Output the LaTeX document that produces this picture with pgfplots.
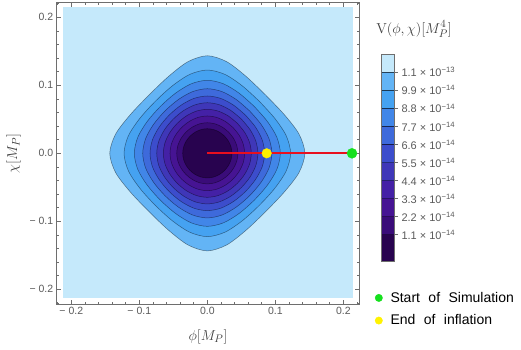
\documentclass[border=0pt]{standalone}
\usepackage[no-math]{fontspec}
\setmainfont{Liberation Sans}
\usepackage{pgfplots}
\pgfplotsset{compat=1.18}

\definecolor{framegray}{HTML}{6E6E6E}
\definecolor{labelgray}{HTML}{5A5A5A}
\definecolor{b0}{HTML}{28034F}
\definecolor{b1}{HTML}{3A0C79}
\definecolor{b2}{HTML}{461493}
\definecolor{b3}{HTML}{4421A6}
\definecolor{b4}{HTML}{3F37B8}
\definecolor{b5}{HTML}{3C4DCC}
\definecolor{b6}{HTML}{3E6ADB}
\definecolor{b7}{HTML}{4186E8}
\definecolor{b8}{HTML}{45A2F1}
\definecolor{b9}{HTML}{63B4F5}
\definecolor{b10}{HTML}{C5E9FB}
\definecolor{trackred}{HTML}{E8101E}
\definecolor{dotgreen}{HTML}{16E01E}
\definecolor{dotyellow}{HTML}{FFF200}

% one closed contour, symmetric in both axes and in phi<->chi
% args: radius on the axis, then x at 15,30,45,60,75 deg, fill colour
\newcommand{\contourring}[7]{%
  \addplot[forget plot, smooth, fill=#7, draw=black, draw opacity=0.45, line width=0.5pt]
  coordinates {
    (#4,#4) (#5,#3) (#6,#2) (0,#1) (-#6,#2) (-#5,#3) (-#4,#4) (-#3,#5) (-#2,#6) (-#1,0)
    (-#2,-#6) (-#3,-#5) (-#4,-#4) (-#5,-#3) (-#6,-#2) (0,-#1) (#6,-#2) (#5,-#3) (#4,-#4)
    (#3,-#5) (#2,-#6) (#1,0) (#2,#6) (#3,#5) (#4,#4)} -- cycle;}
\newcommand{\wsp}{\hspace{0.6em}}

\begin{document}
\begin{tikzpicture}
\useasboundingbox (-56.7pt,-46pt) rectangle (464.3pt,304pt);
\begin{axis}[
  width=302.6pt, height=301.3pt, scale only axis,
  xmin=-0.2215, xmax=0.2235, ymin=-0.2216, ymax=0.2215,
  axis on top,
  xtick={-0.2,-0.1,0,0.1,0.2},
  xticklabels={−\ 0.2,−\ 0.1,0.0,0.1,0.2},
  ytick={-0.2,-0.1,0,0.1,0.2},
  yticklabels={−\ 0.2,−\ 0.1,0.0,0.1,0.2},
  minor xtick={-0.22,-0.18,-0.16,-0.14,-0.12,-0.08,-0.06,-0.04,-0.02,0.02,0.04,0.06,0.08,0.12,0.14,0.16,0.18,0.22},
  minor ytick={-0.22,-0.18,-0.16,-0.14,-0.12,-0.08,-0.06,-0.04,-0.02,0.02,0.04,0.06,0.08,0.12,0.14,0.16,0.18,0.22},
  tick align=inside,
  major tick length=4.5pt, minor tick length=2.5pt,
  axis line style={draw=framegray, line width=0.9pt},
  every tick/.style={framegray, line width=0.6pt},
  tick label style={font=\fontsize{10.5}{12}\selectfont, text=labelgray},
  xlabel={$\phi[M_P]$}, ylabel={$\chi[M_P]$},
  label style={font=\fontsize{15}{18}\selectfont, text=black!75},
  xlabel style={at={(axis description cs:0.5,-0.1086)}, anchor=center},
  ylabel style={at={(axis description cs:-0.143,0.5)}, anchor=center},
  legend style={at={(axis description cs:1.0516,0.0435)}, anchor=north west,
    draw=none, fill=none, inner sep=0pt, row sep=9pt,
    font=\fontsize{14}{16}\selectfont,
    nodes={inner sep=1pt},
    /tikz/every odd column/.style={column sep=7pt}},
  legend cell align=left,
  legend image code/.code={\draw[#1, mark size=3.7pt] plot coordinates {(0pt,0pt)};},
]
\addplot[forget plot, fill=b10, draw=none]
  coordinates {(-0.2118,-0.2124) (0.2138,-0.2124) (0.2138,0.2147) (-0.2118,0.2147)} -- cycle;

\contourring{0.1435}{0.13482}{0.11312}{0.08574}{0.05698}{0.02835}{b9}
\contourring{0.1225}{0.11606}{0.09916}{0.07648}{0.05147}{0.02579}{b8}
\contourring{0.1074}{0.10226}{0.08836}{0.06897}{0.04684}{0.02360}{b7}
\contourring{0.0950}{0.09075}{0.07906}{0.06227}{0.04261}{0.02157}{b6}
\contourring{0.0843}{0.08074}{0.07077}{0.05615}{0.03866}{0.01964}{b5}
\contourring{0.0744}{0.07140}{0.06290}{0.05021}{0.03475}{0.01772}{b4}
\contourring{0.0647}{0.06218}{0.05502}{0.04415}{0.03071}{0.01571}{b3}
\contourring{0.0549}{0.05284}{0.04693}{0.03784}{0.02643}{0.01357}{b2}
\contourring{0.0450}{0.04337}{0.03863}{0.03128}{0.02194}{0.01129}{b1}
\contourring{0.0362}{0.03492}{0.03118}{0.02532}{0.01781}{0.00918}{b0}

\addplot[forget plot, trackred, line width=2pt] coordinates {(0,0) (0.213,0)};

\addplot[only marks, mark=*, mark size=5pt, dotgreen] coordinates {(0.2128,0)};
\addlegendentry{Start\wsp of\wsp Simulation}
\addplot[only marks, mark=*, mark size=4.8pt, dotyellow] coordinates {(0.0873,0)};
\addlegendentry{End\wsp of\wsp inflation}
\end{axis}

\begin{axis}[
  at={(324.3pt,42.3pt)}, anchor=south west,
  width=13pt, height=207.4pt, scale only axis,
  xmin=0, xmax=1, ymin=-0.55, ymax=12.1,
  axis on top,
  xtick=\empty,
  ytick={1.1,2.2,3.3,4.4,5.5,6.6,7.7,8.8,9.9,11},
  yticklabels={1.1 × 10\textsuperscript{−14},2.2 × 10\textsuperscript{−14},3.3 × 10\textsuperscript{−14},
    4.4 × 10\textsuperscript{−14},5.5 × 10\textsuperscript{−14},6.6 × 10\textsuperscript{−14},
    7.7 × 10\textsuperscript{−14},8.8 × 10\textsuperscript{−14},9.9 × 10\textsuperscript{−14},
    1.1 × 10\textsuperscript{−13}},
  ytick pos=right, yticklabel pos=right,
  tick align=outside, major tick length=4pt,
  axis line style={draw=framegray, line width=0.6pt},
  every tick/.style={framegray, line width=0.5pt},
  tick label style={font=\fontsize{11}{13}\selectfont, text=labelgray},
  title={$\mathrm{V}(\phi,\chi)[M_P^4]$},
  title style={at={(axis description cs:2.54,1.093)}, anchor=center,
    font=\fontsize{15}{18}\selectfont, text=black!75},
]
\addplot[fill=b0, draw=black, draw opacity=0.4, line width=0.4pt] coordinates {(0,-0.55) (1,-0.55) (1,1.1) (0,1.1)} -- cycle;
\addplot[fill=b1, draw=black, draw opacity=0.4, line width=0.4pt] coordinates {(0,1.1) (1,1.1) (1,2.2) (0,2.2)} -- cycle;
\addplot[fill=b2, draw=black, draw opacity=0.4, line width=0.4pt] coordinates {(0,2.2) (1,2.2) (1,3.3) (0,3.3)} -- cycle;
\addplot[fill=b3, draw=black, draw opacity=0.4, line width=0.4pt] coordinates {(0,3.3) (1,3.3) (1,4.4) (0,4.4)} -- cycle;
\addplot[fill=b4, draw=black, draw opacity=0.4, line width=0.4pt] coordinates {(0,4.4) (1,4.4) (1,5.5) (0,5.5)} -- cycle;
\addplot[fill=b5, draw=black, draw opacity=0.4, line width=0.4pt] coordinates {(0,5.5) (1,5.5) (1,6.6) (0,6.6)} -- cycle;
\addplot[fill=b6, draw=black, draw opacity=0.4, line width=0.4pt] coordinates {(0,6.6) (1,6.6) (1,7.7) (0,7.7)} -- cycle;
\addplot[fill=b7, draw=black, draw opacity=0.4, line width=0.4pt] coordinates {(0,7.7) (1,7.7) (1,8.8) (0,8.8)} -- cycle;
\addplot[fill=b8, draw=black, draw opacity=0.4, line width=0.4pt] coordinates {(0,8.8) (1,8.8) (1,9.9) (0,9.9)} -- cycle;
\addplot[fill=b9, draw=black, draw opacity=0.4, line width=0.4pt] coordinates {(0,9.9) (1,9.9) (1,11) (0,11)} -- cycle;
\addplot[fill=b10, draw=black, draw opacity=0.4, line width=0.4pt] coordinates {(0,11) (1,11) (1,12.1) (0,12.1)} -- cycle;
\end{axis}
\end{tikzpicture}
\end{document}
